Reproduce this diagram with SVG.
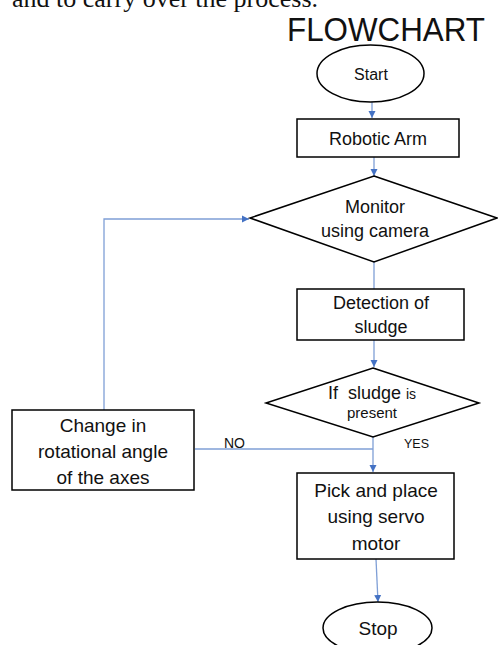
<svg xmlns="http://www.w3.org/2000/svg" width="498" height="645" viewBox="0 0 498 645">
<defs>
<marker id="ah" markerWidth="8" markerHeight="8" refX="7" refY="4" orient="auto" markerUnits="userSpaceOnUse">
<path d="M0,0.5 L7,4 L0,7.5 Z" fill="#4472C4"/>
</marker>
<style>
.shape{fill:#fff;stroke:#000;stroke-width:1.5}
.conn{fill:none;stroke:#7F9FD6;stroke-width:1.3}
.t{font-family:"Liberation Sans",Arial,sans-serif;fill:#111;text-anchor:middle}
</style>
</defs>
<rect width="498" height="645" fill="#fff"/>
<text x="12" y="6.5" font-family="'Liberation Serif','Times New Roman',serif" font-size="26" fill="#111">and to carry over the process.</text>
<text x="386" y="41" class="t" font-size="33" textLength="198" lengthAdjust="spacingAndGlyphs" fill="#222">FLOWCHART</text>

<g id="connectors">
<path class="conn" d="M372,102 V118" marker-end="url(#ah)"/>
<path class="conn" d="M374,157 V176" marker-end="url(#ah)"/>
<path class="conn" d="M374,262 V289"/>
<path class="conn" d="M374,340 V367" marker-end="url(#ah)"/>
<path class="conn" d="M373,437 V472" marker-end="url(#ah)"/>
<path class="conn" d="M195,449 H373"/>
<path class="conn" d="M104,410 V219 H249" marker-end="url(#ah)"/>
<path class="conn" d="M376,559 L378,602" marker-end="url(#ah)"/>
<text x="234.5" y="448" class="t" font-size="14">NO</text>
<text x="416.5" y="448" class="t" font-size="12.5">YES</text>
</g>

<g id="start">
<ellipse class="shape" cx="370.5" cy="73.5" rx="53.5" ry="28.5"/>
<text x="371" y="80" class="t" font-size="16">Start</text>
</g>
<g id="robotic-arm">
<rect class="shape" x="297" y="119" width="162" height="38"/>
<text x="378" y="145" class="t" font-size="18">Robotic Arm</text>
</g>
<g id="monitor">
<polygon class="shape" points="374,176 497,218 374,262 250,218"/>
<text x="375" y="213" class="t" font-size="18">Monitor</text>
<text x="375" y="237" class="t" font-size="18">using camera</text>
</g>
<g id="detection">
<rect class="shape" x="297" y="289" width="167" height="51"/>
<text x="381" y="309" class="t" font-size="18">Detection of</text>
<text x="381" y="333" class="t" font-size="18">sludge</text>
</g>
<g id="decision">
<polygon class="shape" points="373,368 479,403 373,437 266,403"/>
<text x="372" y="399" class="t" font-size="18">If&#160; sludge <tspan font-size="14">is</tspan></text>
<text x="372" y="418" class="t" font-size="15">present</text>
</g>
<g id="change">
<rect class="shape" x="12" y="410" width="182" height="80"/>
<text x="103" y="432" class="t" font-size="19">Change in</text>
<text x="103" y="458" class="t" font-size="19">rotational angle</text>
<text x="103" y="484" class="t" font-size="19">of the axes</text>
</g>
<g id="pick">
<rect class="shape" x="297" y="473" width="157" height="86"/>
<text x="376" y="497" class="t" font-size="19">Pick and place</text>
<text x="376" y="523" class="t" font-size="19">using servo</text>
<text x="376" y="550" class="t" font-size="19">motor</text>
</g>
<g id="stop">
<ellipse class="shape" cx="377.5" cy="628" rx="54.5" ry="26"/>
<text x="378" y="635" class="t" font-size="19">Stop</text>
</g>
</svg>
